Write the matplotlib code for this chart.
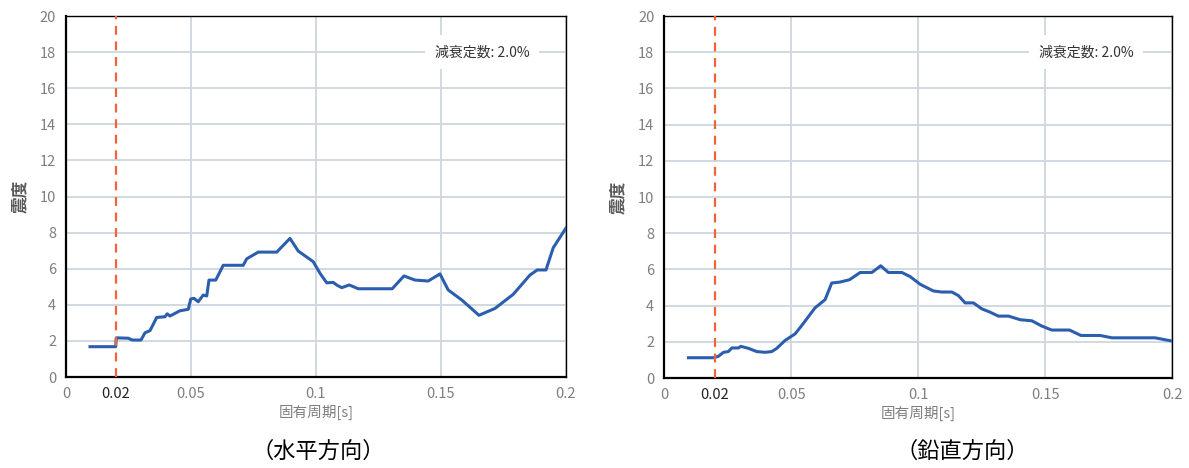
#!/usr/bin/env python3
# -*- coding: utf-8 -*-

import matplotlib
matplotlib.use("Agg")
import matplotlib.pyplot as plt

plt.rcParams['font.family'] = ['Noto Sans CJK JP', 'DejaVu Sans']

# 水平方向 (horizontal)
h_period = [0.0096, 0.0199, 0.0201, 0.0249, 0.0265, 0.0300, 0.0316, 0.0336, 0.0363, 0.0396,
            0.0405, 0.0416, 0.0456, 0.0489, 0.0499, 0.0512, 0.0529, 0.0549, 0.0563, 0.0572,
            0.0599, 0.0629, 0.0709, 0.0723, 0.0769, 0.0843, 0.0896, 0.0929, 0.0989, 0.1016,
            0.1043, 0.1069, 0.1085, 0.1103, 0.1133, 0.1169, 0.1305, 0.1352, 0.1396, 0.1449,
            0.1496, 0.1529, 0.1583, 0.1652, 0.1716, 0.1789, 0.1856, 0.1885, 0.1920, 0.1949,
            0.2000]
h_value = [1.68, 1.68, 2.17, 2.15, 2.05, 2.05, 2.45, 2.57, 3.30, 3.34,
           3.50, 3.38, 3.67, 3.75, 4.32, 4.36, 4.17, 4.54, 4.49, 5.37,
           5.37, 6.19, 6.19, 6.55, 6.92, 6.92, 7.68, 6.98, 6.39, 5.75,
           5.22, 5.24, 5.08, 4.95, 5.10, 4.89, 4.89, 5.60, 5.37, 5.32,
           5.71, 4.82, 4.27, 3.42, 3.80, 4.58, 5.65, 5.93, 5.93, 7.16,
           8.25]

# 鉛直方向 (vertical)
v_period = [0.0096, 0.0194, 0.0214, 0.0234, 0.0253, 0.0267, 0.0293, 0.0302, 0.0332, 0.0365,
            0.0398, 0.0424, 0.0444, 0.0476, 0.0516, 0.0542, 0.0594, 0.0634, 0.0660, 0.0693,
            0.0730, 0.0772, 0.0818, 0.0853, 0.0883, 0.0936, 0.0969, 0.1008, 0.1060, 0.1093,
            0.1133, 0.1159, 0.1185, 0.1218, 0.1251, 0.1283, 0.1316, 0.1356, 0.1402, 0.1448,
            0.1487, 0.1526, 0.1596, 0.1641, 0.1717, 0.1763, 0.1933, 0.2000]
v_value = [1.12, 1.12, 1.20, 1.42, 1.46, 1.66, 1.66, 1.75, 1.64, 1.46,
           1.42, 1.46, 1.64, 2.07, 2.44, 2.90, 3.87, 4.33, 5.25, 5.30,
           5.43, 5.83, 5.83, 6.20, 5.83, 5.83, 5.60, 5.18, 4.81, 4.75,
           4.75, 4.55, 4.15, 4.15, 3.82, 3.64, 3.42, 3.42, 3.22, 3.16,
           2.87, 2.65, 2.65, 2.35, 2.35, 2.22, 2.22, 2.04]

x_ticks = [0, 0.05, 0.1, 0.15, 0.2]
x_tick_labels = ['0', '0.05', '0.1', '0.15', '0.2']
y_ticks = list(range(0, 21, 2))
limit_period = 0.02

GRAY = '#7f7f7f'
LINE_BLUE = '#2b5eae'
RED = '#f0643a'
GRID = '#d0d9e0'


def draw_panel(ax, period, value, caption, caption_x):
    ax.plot(period, value, color=LINE_BLUE, lw=2.2, zorder=3, solid_joinstyle='round')
    ax.axvline(limit_period, color=RED, lw=1.6, ls=(0, (4, 3)), zorder=4)

    ax.set_xlim(0, 0.2)
    ax.set_ylim(0, 20)
    ax.set_xticks(x_ticks)
    ax.set_xticklabels(x_tick_labels)
    ax.set_xticks([limit_period], minor=True)
    ax.set_xticklabels(['0.02'], minor=True)
    ax.set_yticks(y_ticks)
    ax.tick_params(which='both', length=0, labelsize=10.5, labelcolor=GRAY, pad=7)
    ax.tick_params(axis='x', which='minor', labelcolor='#222222')
    ax.grid(True, which='major', color=GRID, lw=1.4, zorder=0)
    ax.set_axisbelow(True)

    for s in ax.spines.values():
        s.set_color('black')
        s.set_linewidth(1.0)
    ax.spines['left'].set_linewidth(1.6)
    ax.spines['bottom'].set_linewidth(1.6)

    ax.set_ylabel('震度', color='#595959', fontsize=12, fontweight='bold', labelpad=8)
    ax.set_xlabel('固有周期[s]', color=GRAY, fontsize=10.5, labelpad=3)

    ax.text(0.738, 0.9, '減衰定数: 2.0%', transform=ax.transAxes, fontsize=10,
            color='#333333', ha='left', va='center', zorder=5,
            bbox=dict(facecolor='white', edgecolor='none', pad=7))

    ax.figure.text(caption_x, 0.036, caption, fontsize=16, ha='center', va='center')


def main():
    fig = plt.figure(figsize=(11.89, 4.68), dpi=100)
    ax1 = fig.add_axes([0.0555, 0.1944, 0.4205, 0.7714])
    ax2 = fig.add_axes([0.5585, 0.1923, 0.4273, 0.7735])

    draw_panel(ax1, h_period, h_value, '（水平方向）', 318 / 1189)
    draw_panel(ax2, v_period, v_value, '（鉛直方向）', 962 / 1189)

    fig.savefig('out.png', dpi=100, facecolor='white')


if __name__ == "__main__":
    main()
